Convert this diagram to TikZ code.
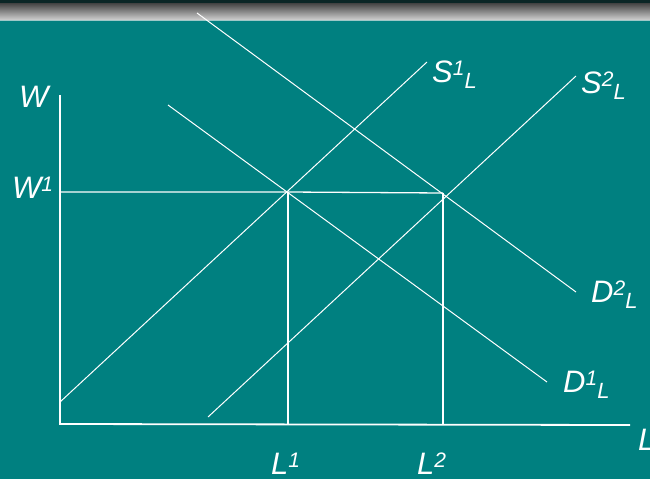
\documentclass[tikz,border=0pt]{standalone}
\usepackage{fontspec}
\setmainfont{Liberation Sans}
\usetikzlibrary{positioning}
\definecolor{slide}    {HTML}{008080}
\definecolor{chalk}    {HTML}{FFFFFF}
\definecolor{barink}   {HTML}{0B2626}
\definecolor{bartop}   {HTML}{3A3A3A}
\definecolor{barbottom}{HTML}{D0D0D0}
\definecolor{barrim}   {HTML}{9CC8C8}
\newcommand{\hi}[1]{\raisebox{7pt}{\fontsize{21}{21}\selectfont #1}}
\newcommand{\lo}[1]{\raisebox{-6pt}{\fontsize{22}{22}\selectfont #1}}
\tikzset{
  % --- nodes
  lab/.style   = {font=\fontsize{31}{35}\selectfont\itshape, text=chalk,
                  inner sep=0pt, anchor=base west},
  % --- edges
  axis/.style  = {draw=chalk, line width=1.8pt},
  guide/.style = {draw=chalk, line width=1.3pt},
  curve/.style = {draw=chalk, line width=1pt},
}
\begin{document}
\begin{tikzpicture}[x=1pt,y=-1pt]
  \fill[slide] (0,0) rectangle (650,479);
  \useasboundingbox (0,0) rectangle (650,479);
  % title bar
  \shade[top color=bartop, bottom color=barbottom] (0,2) rectangle (650,20);
  \fill[barink] (0,0) rectangle (650,2.5);
  \draw[barrim, line width=1pt] (0,20) -- (650,20);

  % points
  \coordinate (wtop) at (60,95);
  \coordinate (o)    at (60,424);
  \coordinate (lend) at (630,425);
  \coordinate (w1)   at (60,192);
  \coordinate (e1)   at (288,192);
  \coordinate (e2)   at (443,193);
  \coordinate (l1)   at (288,424);
  \coordinate (l2)   at (443,425);
  \coordinate (s1a)  at (60,402);
  \coordinate (s1b)  at (427,62);
  \coordinate (s2a)  at (208,417);
  \coordinate (s2b)  at (576,76);
  \coordinate (d1a)  at (168,105);
  \coordinate (d1b)  at (547,382);
  \coordinate (d2a)  at (197,13);
  \coordinate (d2b)  at (576,292);

  % axes and guides
  \draw[axis] (wtop) -- (o) -- (lend);
  \draw[guide] (w1) -- (e1) -- (e2);
  \draw[guide] (e1) -- (l1);
  \draw[guide] (e2) -- (l2);

  % supply and demand
  \draw[curve] (s1a) -- (s1b);
  \draw[curve] (s2a) -- (s2b);
  \draw[curve] (d1a) -- (d1b);
  \draw[curve] (d2a) -- (d2b);

  % labels
  \node[lab] (w)    at (19,107) {W};
  \node[lab] (wone) at (12,198) {W\hi{1}};
  \node[lab] (sone) at (432,82) {S\hi{1}\lo{L}};
  \node[lab] (stwo) at (581,93) {S\hi{2}\lo{L}};
  \node[lab] (dtwo) at (591,302) {D\hi{2}\lo{L}};
  \node[lab] (done) at (563,392) {D\hi{1}\lo{L}};
  \node[lab] (lone) at (271,474) {L\hi{1}};
  \node[lab] (ltwo) at (417,474) {L\hi{2}};
  \node[lab] (l)    at (638,450) {L};
\end{tikzpicture}
\end{document}
